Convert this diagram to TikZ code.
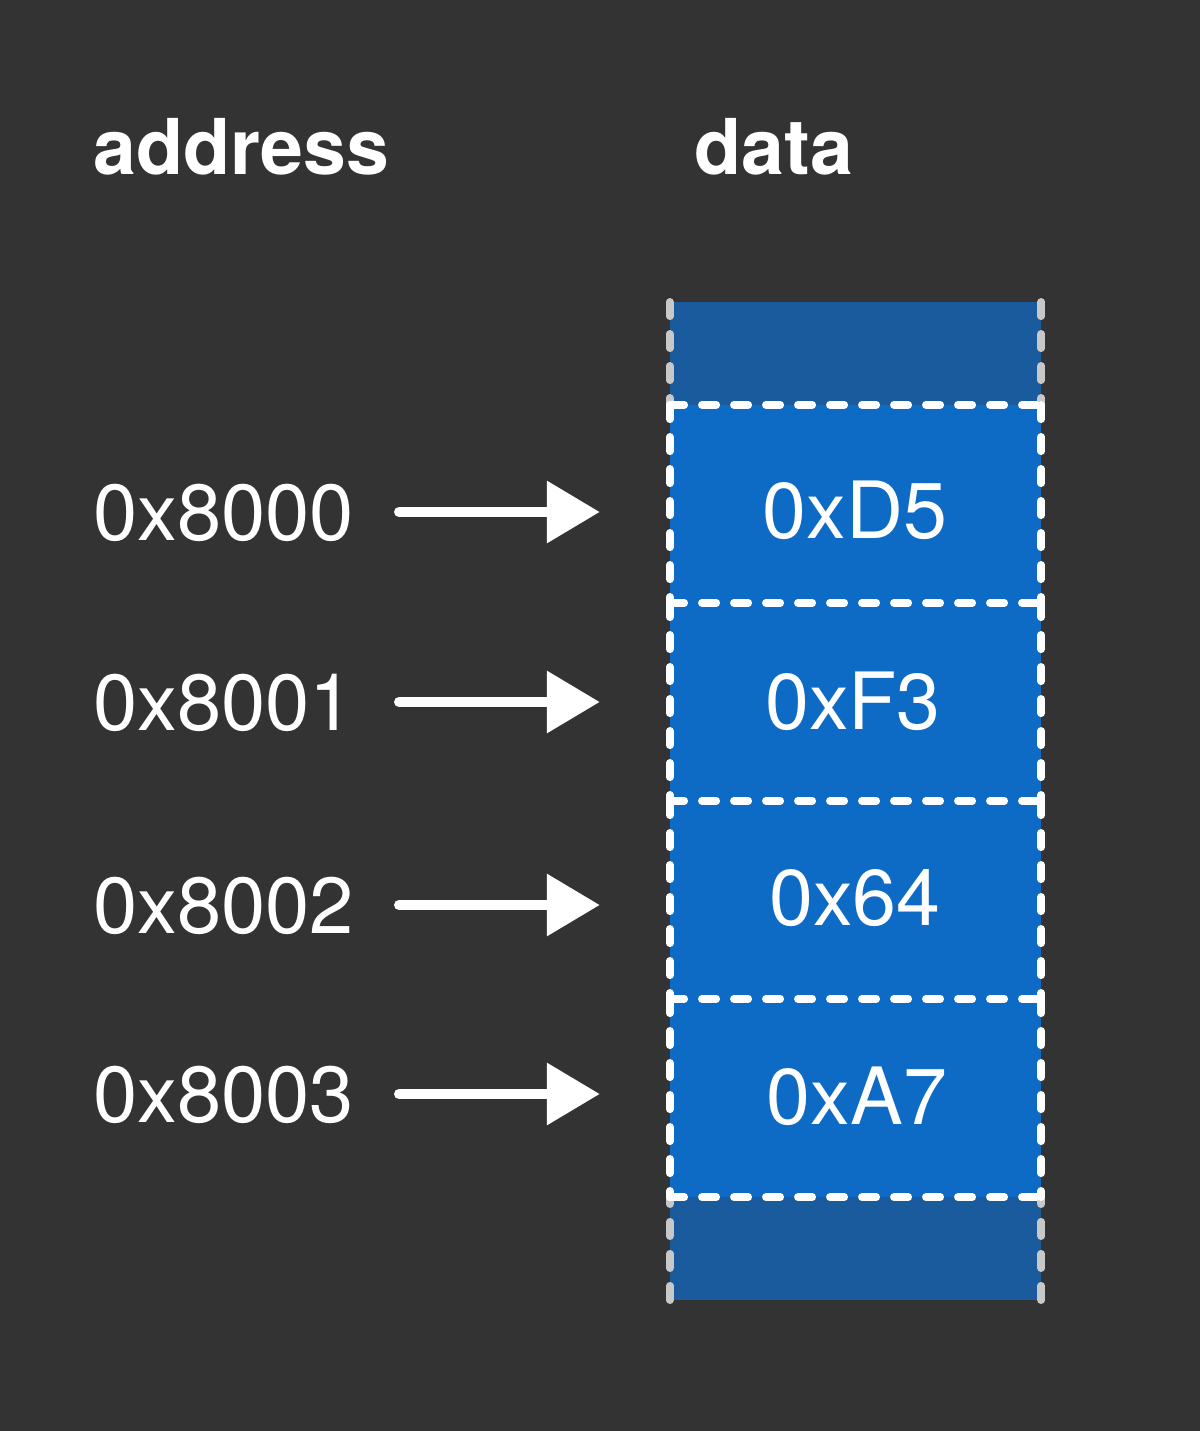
\documentclass[tikz,border=0pt]{standalone}
\usepackage{fontspec}
\setmainfont{TeX Gyre Heros}
\usetikzlibrary{arrows.meta,calc}
\definecolor{bg}{HTML}{333333}
\definecolor{cellblue}{HTML}{0D6BC6}
\definecolor{edgeblue}{HTML}{1A5B9E}
\definecolor{edgegray}{HTML}{C8C8C8}
\begin{document}
\begin{tikzpicture}[x=1pt,y=-1pt,
  cellbox/.style={rectangle, inner sep=0pt, minimum width=371pt, minimum height=198pt, fill=cellblue, text=white, font=\fontsize{78}{90}\selectfont},
  endbox/.style={rectangle, inner sep=0pt, minimum width=371pt, minimum height=103pt, fill=edgeblue},
  whitedash/.style={draw=white, line width=7.5pt, line cap=round, dash pattern=on 14.5pt off 17.5pt},
  graydash/.style={draw=edgegray, line width=7.5pt, line cap=round, dash pattern=on 14.5pt off 17.5pt},
  addrlabel/.style={inner sep=0pt, anchor=base west, text=white, font=\fontsize{79.5}{90}\selectfont},
  datalabel/.style={inner sep=0pt, anchor=base, text=white, font=\fontsize{79}{90}\selectfont},
  heading/.style={inner sep=0pt, anchor=base west, text=white, font=\bfseries\fontsize{77}{90}\selectfont},
  arrowline/.style={draw=white, line width=10pt, line cap=round, -{Triangle[length=53pt, width=60pt]}, shorten >=70pt}
]
\useasboundingbox[fill=bg] (0,0) rectangle (1200,1431);

% headings
\node[heading] (hAddr) at (93,175) {address};
\node[heading] (hData) at (694,175) {data};

% end cells
\node[endbox] (top) at (855.5,353.5) {};
\node[endbox] (bot) at (855.5,1248.5) {};
\draw[graydash] (top.north west) -- (top.south west);
\draw[graydash] (top.north east) -- (top.south east);
\draw[graydash] (bot.south west) -- (bot.north west);
\draw[graydash] (bot.south east) -- (bot.north east);

% data cells
\node[cellbox] (c0) at (855.5,504) {};
\node[cellbox] (c1) at (855.5,702) {};
\node[cellbox] (c2) at (855.5,900) {};
\node[cellbox] (c3) at (855.5,1098) {};

\foreach \c in {c0,c1,c2,c3}{
  \draw[whitedash] (\c.north west) -- (\c.north east);
  \draw[whitedash] (\c.north west) -- (\c.south west);
  \draw[whitedash] (\c.north east) -- (\c.south east);
}
\draw[whitedash] (c3.south west) -- (c3.south east);

% data values
\node[datalabel] (d0) at (855,538) {0xD5};
\node[datalabel] (d1) at (853,729) {0xF3};
\node[datalabel] (d2) at (855,925) {0x64};
\node[datalabel] (d3) at (857,1124) {0xA7};

% address labels
\node[addrlabel] (a0) at (93,540) {0x8000};
\node[addrlabel] (a1) at (93,730) {0x8001};
\node[addrlabel] (a2) at (93,933) {0x8002};
\node[addrlabel] (a3) at (93,1122) {0x8003};

% arrows
\coordinate (s0) at (399,512);
\coordinate (s1) at (399,702);
\coordinate (s2) at (399,905);
\coordinate (s3) at (399,1094);
\draw[arrowline] (s0) -- (s0 -| c0.west);
\draw[arrowline] (s1) -- (s1 -| c1.west);
\draw[arrowline] (s2) -- (s2 -| c2.west);
\draw[arrowline] (s3) -- (s3 -| c3.west);
\end{tikzpicture}
\end{document}
